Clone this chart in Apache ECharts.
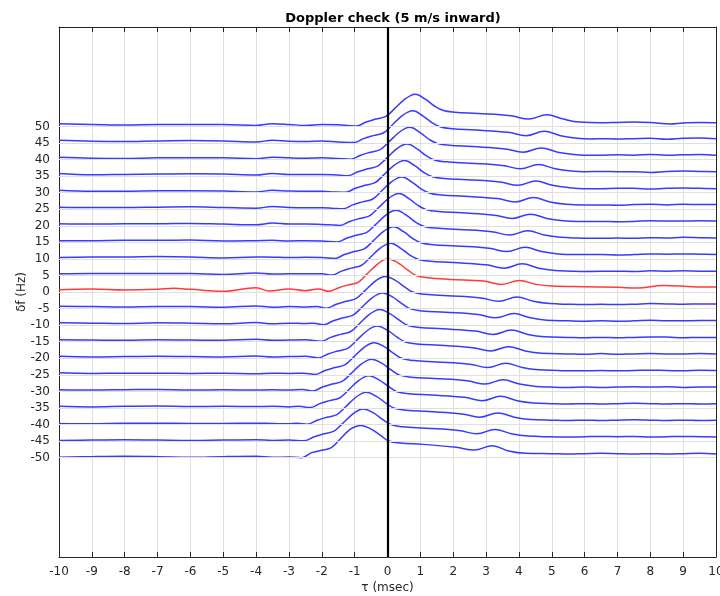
<!DOCTYPE html>
<html><head><meta charset="utf-8">
<script src="https://cdn.jsdelivr.net/npm/echarts@6/dist/echarts.min.js"></script>
<style>html,body{margin:0;padding:0;background:#fff}#c{width:720px;height:596px}</style>
</head><body><div id="c"></div>
<script>
const titleText = 'Doppler check (5 m/s inward)';
const xName = 'τ (msec)';
const yName = 'δf (Hz)';
const dfOffsets = [50,45,40,35,30,25,20,15,10,5,0,-5,-10,-15,-20,-25,-30,-35,-40,-45,-50];
const yTicks = [-50,-45,-40,-35,-30,-25,-20,-15,-10,-5,0,5,10,15,20,25,30,35,40,45,50];

const tr50 = [[-10,50.8],[-9,50.6],[-8,50.4],[-7,50.6],[-6,50.6],[-5,50.6],[-4,50.3],[-3.5,50.8],[-3,50.6],[-2.5,50.3],[-2,50.6],[-1.5,50.5],[-1.2,50.3],
[-0.95,50.1],[-0.65,51.3],[-0.35,52.2],[-0.05,53.0],[0.2,55.2],[0.5,58.0],[0.7,59.3],[0.85,59.7],[1.15,58.2],[1.45,56.0],[1.7,54.8],[2.05,54.3],[2.75,53.9],[3.75,53.2],[4.3,52.2],[4.85,53.5],[5.35,52.2],[5.85,51.3],
[6.5,51.1],[7,51.2],[7.5,51.3],[8,51.2],[8.6,50.7],[9,51.0],[9.5,51.2],[10,51.1]];
const tr45 = [[-10,45.8],[-9,45.5],[-8,45.4],[-7,45.6],[-6,45.7],[-5,45.6],[-4,45.3],[-3.5,45.8],[-3,45.5],[-2.5,45.4],[-2,45.6],[-1.5,45.3],
[-1.03,45.1],[-0.73,46.3],[-0.43,47.2],[-0.13,48.0],[0.12,50.2],[0.42,53.0],[0.62,54.3],[0.77,54.7],[1.07,53.2],[1.37,51.0],[1.62,49.8],[1.97,49.3],[2.67,48.9],[3.67,48.2],[4.22,47.2],[4.77,48.5],[5.27,47.2],[5.77,46.4],
[6.2,46.2],[6.5,46.3],[7,46.2],[7.5,46.3],[8,46.4],[8.5,46.1],[9,46.4],[9.5,46.5],[10,46.3]];
const tr40 = [[-10,40.7],[-9,40.4],[-8,40.3],[-7,40.5],[-6,40.5],[-5,40.5],[-4,40.2],[-3.5,40.7],[-3,40.5],[-2.5,40.4],[-2,40.5],[-1.5,40.3],
[-1.12,40.1],[-0.82,41.3],[-0.52,42.2],[-0.22,43.0],[0.03,45.2],[0.33,48.0],[0.53,49.3],[0.68,49.7],[0.98,48.2],[1.28,46.0],[1.53,44.8],[1.88,44.3],[2.58,43.9],[3.58,43.2],[4.13,42.2],[4.68,43.5],[5.18,42.2],[5.68,41.5],
[6,41.3],[6.5,41.3],[7,41.4],[7.5,41.3],[8,41.5],[8.5,41.3],[9,41.4],[9.5,41.5],[10,41.3]];
const tr35 = [[-10,35.8],[-9,35.4],[-8,35.5],[-7,35.6],[-6,35.7],[-5,35.6],[-4,35.3],[-3.5,35.8],[-3,35.5],[-2.5,35.5],[-2,35.5],[-1.5,35.3],
[-1.2,35.1],[-0.9,36.3],[-0.6,37.2],[-0.3,38.0],[-0.05,40.2],[0.25,43.0],[0.45,44.3],[0.6,44.7],[0.9,43.2],[1.2,41.0],[1.45,39.8],[1.8,39.3],[2.5,38.9],[3.5,38.2],[4.05,37.2],[4.6,38.5],[5.1,37.2],[5.6,36.5],
[6,36.3],[6.5,36.4],[7,36.3],[7.5,36.3],[8,36.1],[8.5,36.4],[9,36.5],[9.5,36.4],[10,36.3]];
const tr30 = [[-10,30.7],[-9,30.4],[-8,30.4],[-7,30.6],[-6,30.6],[-5,30.5],[-4,30.2],[-3.5,30.7],[-3,30.5],[-2.5,30.4],[-2,30.4],[-1.6,30.2],
[-1.28,30.1],[-0.98,31.3],[-0.68,32.2],[-0.38,33.0],[-0.13,35.2],[0.17,38.0],[0.37,39.3],[0.52,39.7],[0.82,38.2],[1.12,36.0],[1.37,34.8],[1.72,34.3],[2.42,33.9],[3.42,33.2],[3.97,32.2],[4.52,33.5],[5.02,32.2],[5.52,31.5],
[6,31.2],[6.5,31.2],[7,31.3],[7.5,31.3],[8,31.1],[8.5,31.3],[9,31.4],[9.5,31.3],[10,31.2]];
const tr25 = [[-10,25.6],[-9,25.5],[-8,25.5],[-7,25.6],[-6,25.7],[-5,25.5],[-4,25.3],[-3.5,25.8],[-3,25.5],[-2.5,25.4],[-2,25.4],[-1.7,25.3],
[-1.36,25.1],[-1.06,26.3],[-0.76,27.2],[-0.46,28.0],[-0.21,30.2],[0.09,33.0],[0.29,34.3],[0.44,34.7],[0.74,33.2],[1.04,31.0],[1.29,29.8],[1.64,29.3],[2.34,28.9],[3.34,28.2],[3.89,27.2],[4.44,28.5],[4.94,27.2],[5.44,26.5],
[6,26.3],[6.5,26.3],[7,26.2],[7.5,26.4],[8,26.5],[8.5,26.3],[9,26.5],[9.5,26.4],[10,26.4]];
const tr20 = [[-10,20.6],[-9,20.5],[-8,20.6],[-7,20.6],[-6,20.7],[-5,20.5],[-4,20.3],[-3.5,20.8],[-3,20.5],[-2.5,20.5],[-2,20.4],[-1.75,20.3],
[-1.45,20.1],[-1.15,21.3],[-0.85,22.2],[-0.55,23.0],[-0.3,25.2],[0,28.0],[0.2,29.3],[0.35,29.7],[0.65,28.2],[0.95,26.0],[1.2,24.8],[1.55,24.3],[2.25,23.9],[3.25,23.2],[3.8,22.2],[4.35,23.5],[4.85,22.2],[5.35,21.5],
[5.8,21.3],[6.5,21.3],[7,21.2],[7.5,21.3],[8,21.5],[8.5,21.4],[9,21.4],[9.5,21.5],[10,21.4]];
const tr15 = [[-10,15.5],[-9,15.5],[-8,15.6],[-7,15.6],[-6,15.7],[-5,15.4],[-4,15.5],[-3.5,15.6],[-3,15.4],[-2.5,15.5],[-2,15.4],
[-1.53,15.1],[-1.23,16.3],[-0.93,17.2],[-0.63,18.0],[-0.38,20.2],[-0.08,23.0],[0.12,24.3],[0.27,24.7],[0.57,23.2],[0.87,21.0],[1.12,19.8],[1.47,19.3],[2.17,18.9],[3.17,18.2],[3.72,17.2],[4.27,18.5],[4.77,17.2],[5.27,16.5],
[5.8,16.3],[6.5,16.2],[7,16.3],[7.5,16.2],[8,16.4],[8.5,16.3],[9,16.5],[9.5,16.4],[10,16.3]];
const tr10 = [[-10,10.4],[-9,10.6],[-8,10.6],[-7,10.7],[-6,10.6],[-5,10.3],[-4,10.6],[-3.5,10.5],[-3,10.4],[-2.5,10.5],[-2,10.4],
[-1.61,10.1],[-1.31,11.3],[-1.01,12.2],[-0.71,13.0],[-0.46,15.2],[-0.16,18.0],[0.04,19.3],[0.19,19.7],[0.49,18.2],[0.79,16.0],[1.04,14.8],[1.39,14.3],[2.09,13.9],[3.09,13.2],[3.64,12.2],[4.19,13.5],[4.69,12.2],[5.19,11.5],
[5.7,11.3],[6.5,11.3],[7,11.2],[7.5,11.3],[8,11.5],[8.5,11.4],[9,11.5],[9.5,11.4],[10,11.3]];
const tr5 = [[-10,5.5],[-9,5.6],[-8,5.6],[-7,5.6],[-6,5.6],[-5,5.3],[-4,5.7],[-3.5,5.4],[-3,5.5],[-2.5,5.5],[-2,5.5],
[-1.7,5.1],[-1.4,6.3],[-1.1,7.2],[-0.8,8.0],[-0.55,10.2],[-0.25,13.0],[-0.05,14.3],[0.1,14.7],[0.4,13.2],[0.7,11.0],[0.95,9.8],[1.3,9.3],[2.0,8.9],[3.0,8.2],[3.55,7.2],[4.1,8.5],[4.6,7.2],[5.1,6.5],
[5.6,6.3],[6,6.2],[7,6.3],[7.5,6.2],[8,6.4],[8.5,6.3],[9,6.4],[9.5,6.3],[10,6.3]];
const tr0 = [[-10,0.7],[-9,0.9],[-8,0.6],[-7,0.8],[-6.5,1.1],[-6,0.8],[-5,0.2],[-4,1.3],[-3.6,0.3],[-3,0.9],[-2.5,0.4],[-2.1,0.9],
[-1.78,0.2],[-1.48,1.3],[-1.18,2.2],[-0.88,3.0],[-0.63,5.4],[-0.33,8.2],[-0.13,9.6],[0.02,10.0],[0.32,8.8],[0.62,6.6],[0.87,5.0],[1.22,4.3],[1.92,3.8],[2.92,3.3],[3.47,2.3],[4.02,3.5],[4.52,2.3],[5.02,1.8],
[6,1.6],[7,1.4],[7.6,1.2],[8.4,2.0],[9.3,1.6],[10,1.5]];
const trm5 = [[-10,-4.3],[-9,-4.4],[-8,-4.5],[-7,-4.4],[-6,-4.4],[-5,-4.6],[-4,-4.2],[-3.5,-4.6],[-3,-4.4],[-2.5,-4.5],[-2.15,-4.4],
[-1.86,-4.9],[-1.56,-3.7],[-1.26,-2.8],[-0.96,-2.0],[-0.71,0.2],[-0.41,3.0],[-0.21,4.3],[-0.06,4.7],[0.24,3.5],[0.54,1.4],[0.79,-0.1],[1.14,-0.7],[1.84,-1.1],[2.84,-1.8],[3.39,-2.8],[3.94,-1.5],[4.44,-2.8],[4.94,-3.5],
[5.5,-3.7],[6,-3.8],[6.5,-3.7],[7,-3.8],[7.5,-3.7],[8,-3.5],[8.5,-3.6],[9,-3.7],[9.5,-3.6],[10,-3.6]];
const trm10 = [[-10,-9.3],[-9,-9.4],[-8,-9.5],[-7,-9.3],[-6,-9.4],[-5,-9.6],[-4,-9.2],[-3.5,-9.6],[-3,-9.4],[-2.5,-9.5],[-2.25,-9.4],
[-1.95,-9.9],[-1.65,-8.7],[-1.35,-7.8],[-1.05,-7.0],[-0.8,-4.8],[-0.5,-2.0],[-0.3,-0.7],[-0.15,-0.3],[0.15,-1.5],[0.45,-3.6],[0.7,-5.1],[1.05,-5.7],[1.75,-6.1],[2.75,-6.8],[3.3,-7.8],[3.85,-6.5],[4.35,-7.8],[4.85,-8.5],
[5.5,-8.7],[6,-8.8],[6.5,-8.7],[7,-8.8],[7.5,-8.7],[8,-8.5],[8.5,-8.7],[9,-8.7],[9.5,-8.6],[10,-8.6]];
const trm15 = [[-10,-14.4],[-9,-14.5],[-8,-14.6],[-7,-14.4],[-6,-14.5],[-5,-14.6],[-4,-14.3],[-3.5,-14.6],[-3,-14.5],[-2.5,-14.4],
[-2.03,-14.9],[-1.73,-13.7],[-1.43,-12.8],[-1.13,-12.0],[-0.88,-9.8],[-0.58,-7.0],[-0.38,-5.7],[-0.23,-5.3],[0.07,-6.5],[0.37,-8.6],[0.62,-10.1],[0.97,-10.7],[1.67,-11.1],[2.67,-11.8],[3.22,-12.8],[3.77,-11.5],[4.27,-12.8],[4.77,-13.5],
[5.5,-13.7],[6,-13.8],[6.5,-13.7],[7,-13.8],[7.5,-13.7],[8,-13.6],[8.5,-13.6],[9,-13.8],[9.5,-13.7],[10,-13.7]];
const trm20 = [[-10,-19.4],[-9,-19.6],[-8,-19.5],[-7,-19.4],[-6,-19.5],[-5,-19.6],[-4,-19.3],[-3.5,-19.6],[-3,-19.5],[-2.5,-19.4],
[-2.11,-19.9],[-1.81,-18.7],[-1.51,-17.8],[-1.21,-17.0],[-0.96,-14.8],[-0.66,-12.0],[-0.46,-10.7],[-0.31,-10.3],[-0.01,-11.5],[0.29,-13.6],[0.54,-15.1],[0.89,-15.7],[1.59,-16.1],[2.59,-16.8],[3.14,-17.8],[3.69,-16.5],[4.19,-17.8],[4.69,-18.5],
[5.5,-18.7],[6,-18.8],[6.5,-18.6],[7,-18.8],[7.5,-18.7],[8,-18.6],[8.5,-18.7],[9,-18.7],[9.5,-18.6],[10,-18.7]];
const trm25 = [[-10,-24.4],[-9,-24.6],[-8,-24.5],[-7,-24.5],[-6,-24.6],[-5,-24.5],[-4,-24.7],[-3.5,-24.5],[-3,-24.6],[-2.55,-24.5],
[-2.2,-24.9],[-1.9,-23.7],[-1.6,-22.8],[-1.3,-22.0],[-1.05,-19.8],[-0.75,-17.0],[-0.55,-15.7],[-0.4,-15.3],[-0.1,-16.5],[0.2,-18.6],[0.45,-20.1],[0.8,-20.7],[1.5,-21.1],[2.5,-21.8],[3.05,-22.8],[3.6,-21.5],[4.1,-22.8],[4.6,-23.5],
[5.2,-23.7],[5.5,-23.8],[6,-23.8],[6.5,-23.7],[7,-23.8],[7.5,-23.7],[8,-23.6],[8.5,-23.7],[9,-23.8],[9.5,-23.6],[10,-23.7]];
const trm30 = [[-10,-29.5],[-9,-29.6],[-8,-29.5],[-7,-29.4],[-6,-29.6],[-5,-29.5],[-4,-29.6],[-3.5,-29.5],[-3,-29.6],[-2.6,-29.4],
[-2.28,-29.9],[-1.98,-28.7],[-1.68,-27.8],[-1.38,-27.0],[-1.13,-24.8],[-0.83,-22.0],[-0.63,-20.7],[-0.48,-20.3],[-0.18,-21.5],[0.12,-23.6],[0.37,-25.1],[0.72,-25.7],[1.42,-26.1],[2.42,-26.8],[2.97,-27.8],[3.52,-26.5],[4.02,-27.8],[4.52,-28.5],
[5,-28.7],[5.5,-28.8],[6,-28.7],[6.5,-28.8],[7,-28.7],[7.5,-28.6],[8,-28.7],[8.5,-28.6],[9,-28.8],[9.5,-28.7],[10,-28.7]];
const trm35 = [[-10,-34.5],[-9,-34.7],[-8,-34.5],[-7,-34.4],[-6,-34.6],[-5,-34.5],[-4,-34.6],[-3.5,-34.5],[-3,-34.7],[-2.7,-34.5],
[-2.36,-34.9],[-2.06,-33.7],[-1.76,-32.8],[-1.46,-32.0],[-1.21,-29.8],[-0.91,-27.0],[-0.71,-25.7],[-0.56,-25.3],[-0.26,-26.5],[0.04,-28.6],[0.29,-30.1],[0.64,-30.7],[1.34,-31.1],[2.34,-31.8],[2.89,-32.8],[3.44,-31.5],[3.94,-32.8],[4.44,-33.5],
[5,-33.7],[5.5,-33.8],[6,-33.7],[6.5,-33.8],[7,-33.7],[7.5,-33.6],[8,-33.7],[8.5,-33.8],[9,-33.7],[9.5,-33.8],[10,-33.7]];
const trm40 = [[-10,-39.7],[-9,-39.8],[-8,-39.6],[-7,-39.6],[-6,-39.7],[-5,-39.7],[-4,-39.6],[-3.5,-39.7],[-3,-39.8],[-2.75,-39.6],
[-2.44,-39.9],[-2.14,-38.7],[-1.84,-37.8],[-1.54,-37.0],[-1.29,-34.8],[-0.99,-32.0],[-0.79,-30.7],[-0.64,-30.3],[-0.34,-31.5],[-0.04,-33.6],[0.21,-35.1],[0.56,-35.7],[1.26,-36.1],[2.26,-36.8],[2.81,-37.8],[3.36,-36.5],[3.86,-37.8],[4.36,-38.5],
[5,-38.7],[5.5,-38.8],[6,-38.7],[6.5,-38.8],[7,-38.7],[7.5,-38.6],[8,-38.7],[8.5,-38.8],[9,-38.7],[9.5,-38.8],[10,-38.7]];
const trm45 = [[-10,-44.8],[-9,-44.7],[-8,-44.6],[-7,-44.7],[-6,-44.8],[-5,-44.7],[-4,-44.6],[-3.5,-44.8],[-3,-44.7],
[-2.53,-44.9],[-2.23,-43.7],[-1.93,-42.8],[-1.63,-42.0],[-1.38,-39.8],[-1.08,-37.0],[-0.88,-35.7],[-0.73,-35.3],[-0.43,-36.5],[-0.13,-38.6],[0.12,-40.1],[0.47,-40.7],[1.17,-41.1],[2.17,-41.8],[2.72,-42.8],[3.27,-41.5],[3.77,-42.8],[4.27,-43.5],
[5,-43.7],[5.5,-43.8],[6,-43.7],[6.5,-43.6],[7,-43.7],[7.5,-43.6],[8,-43.8],[8.5,-43.7],[9,-43.6],[9.5,-43.7],[10,-43.8]];
const trm50 = [[-10,-49.9],[-9,-49.7],[-8,-49.6],[-7,-49.7],[-6,-49.9],[-5,-49.7],[-4,-49.6],[-3.5,-49.9],[-3,-49.8],
[-2.61,-50.0],[-2.31,-48.5],[-2.01,-47.8],[-1.71,-47.0],[-1.46,-44.6],[-1.16,-41.6],[-0.96,-40.6],[-0.81,-40.3],[-0.51,-41.3],[-0.21,-43.3],[0.04,-45.0],[0.39,-45.6],[1.09,-46.0],[2.09,-46.9],[2.64,-47.7],[3.19,-46.4],[3.69,-48.0],[4.19,-48.7],
[5,-48.8],[5.5,-48.9],[6,-48.8],[6.5,-48.7],[7,-48.8],[7.5,-48.9],[8,-48.8],[8.5,-48.9],[9,-48.8],[9.5,-48.7],[10,-48.9]];

const traces = [tr50,tr45,tr40,tr35,tr30,tr25,tr20,tr15,tr10,tr5,tr0,trm5,trm10,trm15,trm20,trm25,trm30,trm35,trm40,trm45,trm50];

const FONT = 'DejaVu Sans';
const AX = '#262626';
const GRID = '#dfdfdf';
const chart = echarts.init(document.getElementById('c'), null, {renderer: 'canvas'});

const series = [];
series.push({
  type: 'line', data: [], silent: true, z: 1,
  markLine: {
    silent: true, symbol: ['none','none'], label: {show: false}, animation: false,
    lineStyle: {color: GRID, width: 1, type: 'solid'},
    data: yTicks.map(v => ({yAxis: v}))
  }
});
traces.forEach((d, i) => {
  const isRed = dfOffsets[i] === 0;
  series.push({
    type: 'line', name: 'df ' + dfOffsets[i], data: d, showSymbol: false, smooth: 0.4,
    z: isRed ? 4 : 3, silent: true,
    lineStyle: {color: isRed ? '#ff3a3a' : '#3a3aff', width: 1.5}
  });
});
series.push({
  type: 'line', data: [], silent: true, z: 6,
  markLine: {
    silent: true, symbol: ['none','none'], label: {show: false}, animation: false,
    lineStyle: {color: '#000', width: 2.2, type: 'solid'},
    data: [{xAxis: 0}]
  }
});

const commonX = {
  type: 'value', min: -10, max: 10, interval: 1,
  axisLine: {show: true, onZero: false, lineStyle: {color: AX, width: 1}},
  axisTick: {show: true, inside: true, length: 5, lineStyle: {color: AX}},
};
const commonY = {
  type: 'value', min: -80, max: 80, interval: 5,
  axisLine: {show: true, onZero: false, lineStyle: {color: AX, width: 1}},
  axisTick: {show: true, inside: true, length: 5, customValues: yTicks, lineStyle: {color: AX}},
};

chart.setOption({
  animation: false,
  backgroundColor: '#fff',
  title: {
    text: titleText, left: 388, top: 7, textAlign: 'center',
    textStyle: {fontFamily: FONT, fontWeight: 'bold', fontSize: 13, color: '#000'}
  },
  grid: {left: 59, right: 4, top: 27, bottom: 39, containLabel: false, outerBoundsMode: 'none'},
  xAxis: [
    Object.assign({}, commonX, {
      position: 'bottom',
      name: xName, nameLocation: 'middle', nameGap: 25, nameMoveOverlap: false,
      nameTextStyle: {fontFamily: FONT, fontSize: 12, color: AX},
      axisLabel: {show: true, margin: 9, fontFamily: FONT, fontSize: 12, color: AX},
      splitLine: {show: true, lineStyle: {color: GRID, width: 1}}
    }),
    Object.assign({}, commonX, {
      position: 'top', axisLabel: {show: false}, splitLine: {show: false}
    })
  ],
  yAxis: [
    Object.assign({}, commonY, {
      position: 'left',
      name: yName, nameLocation: 'middle', nameGap: 31, nameRotate: 90, nameMoveOverlap: false,
      nameTextStyle: {fontFamily: FONT, fontSize: 12, color: AX},
      axisLabel: {show: true, margin: 9, fontFamily: FONT, fontSize: 12, color: AX, customValues: yTicks},
      splitLine: {show: false}
    }),
    Object.assign({}, commonY, {
      position: 'right', axisLabel: {show: false}, splitLine: {show: false}
    })
  ],
  series: series
});
</script>
</body></html>
